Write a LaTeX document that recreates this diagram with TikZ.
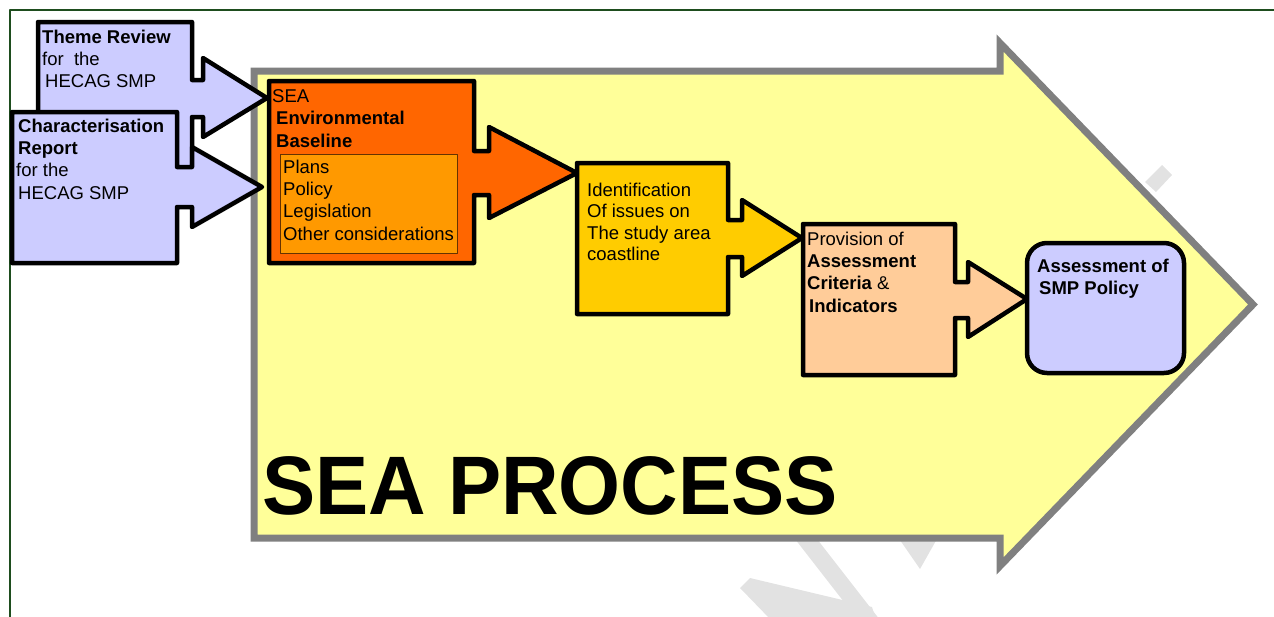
\documentclass[tikz,border=0pt]{standalone}
\usepackage{fontspec}
\setmainfont{Liberation Sans}
\definecolor{sealilac}{HTML}{CCCCFF}
\definecolor{seaorange}{HTML}{FF6600}
\definecolor{seainner}{HTML}{FF9900}
\definecolor{seabrown}{HTML}{663300}
\definecolor{seagold}{HTML}{FFCC00}
\definecolor{seapeach}{HTML}{FFCC99}
\definecolor{seayellow}{HTML}{FFFF99}
\definecolor{seagray}{HTML}{808080}
\definecolor{seagreen}{HTML}{1E4D1E}
\definecolor{seamark}{HTML}{E2E2E2}

\begin{document}
\begin{tikzpicture}[x=1pt, y=-1pt, line join=round,
  callout/.style={draw=black, line width=4.5pt},
  lbl/.style={anchor=north west, inner sep=0pt, align=left,
    font=\fontsize{18.5}{22.3}\selectfont}]
  \useasboundingbox (0,0) rectangle (1274,616);
  % page frame
  \draw[seagreen, line width=1.5pt] (10,630) -- (10,10) -- (1280,10);
  % faint watermark pieces
  \fill[seamark] (1145,182) -- (1162,165) -- (1172,175) -- (1156,192) -- cycle;
  \fill[seamark] (788,530) -- (810,530) -- (880,620) -- (858,620) -- cycle;
  \fill[seamark] (740,588) -- (750,578) -- (872,607) -- (876,620) -- (771,620) -- cycle;
  \fill[seamark] (893,530) -- (942,530) -- (920,569) -- cycle;
  % big process arrow
  \draw[draw=seagray, fill=seayellow, line width=7pt, line join=miter]
    (254,71) -- (1000,71) -- (1000,43) -- (1253,304.5) -- (1000,566) -- (1000,538) -- (254,538) -- cycle;
  % input callouts
  \draw[callout, fill=sealilac]
    (38,22) -- (192,22) -- (192,80) -- (203,80) -- (203,58) -- (267,98) -- (203,137)
    -- (203,117) -- (192,117) -- (192,200) -- (38,200) -- cycle;
  \draw[callout, fill=sealilac]
    (12,112) -- (177,112) -- (177,167) -- (192,167) -- (192,147) -- (262,187) -- (192,227)
    -- (192,207) -- (177,207) -- (177,263) -- (12,263) -- cycle;
  % process steps
  \draw[callout, fill=seaorange]
    (269,81) -- (474,81) -- (474,151) -- (489,151) -- (489,127) -- (577,173) -- (489,218)
    -- (489,195) -- (474,195) -- (474,263) -- (269,263) -- cycle;
  \draw[draw=seabrown, line width=1pt, fill=seainner] (280,154) rectangle (457,253);
  \draw[callout, fill=seagold]
    (577,163) -- (728,163) -- (728,220) -- (742,220) -- (742,200) -- (802,238) -- (742,276)
    -- (742,257) -- (728,257) -- (728,314) -- (577,314) -- cycle;
  \draw[callout, fill=seapeach]
    (803,224) -- (955,224) -- (955,282) -- (968,282) -- (968,262) -- (1027,299) -- (968,337)
    -- (968,318) -- (955,318) -- (955,375) -- (803,375) -- cycle;
  \draw[callout, fill=sealilac, rounded corners=20pt] (1027,243) rectangle (1184,373);
  % labels
  \node[lbl] (theme) at (42,29.5) {\textbf{Theme Review}\\for~~the\\\hspace*{3pt}HECAG SMP};
  \node[lbl] (charrep) at (18,118.5) {\textbf{Characterisation}\\\textbf{Report}\\\hspace*{-2pt}for the\\HECAG SMP};
  \node[lbl] (baseline) at (272,89.5) {SEA\\\hspace*{4pt}\textbf{Environmental}\\\hspace*{4pt}\textbf{Baseline}};
  \node[lbl] (topics) at (283,159.5) {Plans\\Policy\\Legislation\\Other considerations};
  \node[lbl, font=\fontsize{18.5}{21.5}\selectfont] (issues) at (587,182.5) {Identification\\Of issues on\\The study area\\coastline};
  \node[lbl] (criteria) at (807,231.5) {Provision of\\\textbf{Assessment}\\\textbf{Criteria} \&\\\hspace*{2pt}\textbf{Indicators}};
  \node[lbl] (policy) at (1037,258.5) {\textbf{Assessment of}\\\hspace*{2pt}\textbf{SMP Policy}};
  \node[anchor=base west, inner sep=0pt, font=\fontsize{83}{90}\selectfont\bfseries] (process) at (262,514) {\scalebox{0.96}[1]{SEA PROCESS}};
\end{tikzpicture}
\end{document}
